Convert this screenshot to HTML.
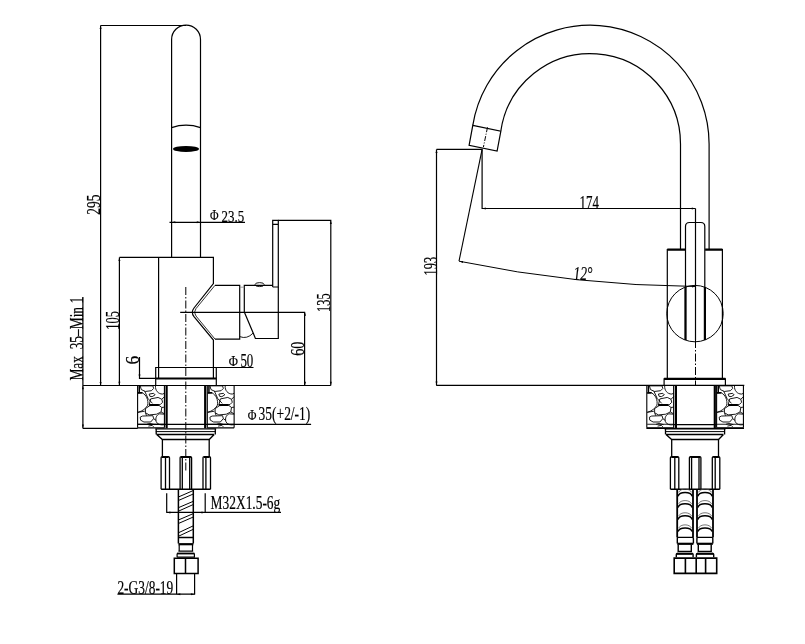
<!DOCTYPE html>
<html><head><meta charset="utf-8"><style>
html,body{margin:0;padding:0;background:#fff;width:805px;height:644px;overflow:hidden}
svg{display:block;filter:grayscale(1)}
text{font-family:"Liberation Serif",serif;fill:#000}
</style></head><body>
<svg width="805" height="644" viewBox="0 0 805 644">
<defs>
<g id="peb" fill="none" stroke="#000" stroke-width="1">
 <g transform="scale(0.07452)">
  <path vector-effect="non-scaling-stroke" stroke-width="1.1" d="M0,0 V568 M360,0 V568 M0,0 H360 M0,568 H360"/>
  <path vector-effect="non-scaling-stroke" stroke-width="1.5" d="M22,5 V95 M5,98 H65"/>
  <path vector-effect="non-scaling-stroke" stroke-width="0.9" d="M35,5 L205,5 L215,40 L185,70 L105,80 L50,55 Z
  M240,5 C235,65 275,115 335,115 L360,105
  M5,105 L65,100 C115,125 150,195 135,265 C115,305 65,345 5,360
  M155,115 L215,105 L235,125 L195,150 L165,145 Z
  M95,75 L140,175 L200,240
  M175,180 L275,160 L325,185 L335,225 L305,255 L255,265 L155,265 Z
  M105,310 L165,270 L285,265 L325,295 L315,355 L255,385 L155,395 L105,365 Z
  M35,425 L65,410 L205,405 L215,445 L175,490 L85,490 L40,465 Z
  M360,385 L295,380 C255,395 235,435 250,485 C265,525 315,535 360,525
  M125,520 L165,510 L225,525 M145,545 L195,535 L215,555
  M5,360 L95,345 M325,185 L360,150 M325,295 L360,290 M315,355 L360,380 M105,365 L120,405 M215,445 L250,470 M5,520 L360,520"/>
  <path vector-effect="non-scaling-stroke" stroke-width="2" d="M155,262 H285"/>
 </g>
</g>
<g id="base" fill="none" stroke="#000" stroke-width="1.3">
  <path d="M155.3,428.9 H216.2" stroke-width="1.3"/><path d="M155.8,431.6 H215.7" stroke-width="1"/>
  <path d="M156.2,428.9 V434.5 M215.3,428.9 V434.5 M156.7,434.5 H214.2 M156.7,434.5 L162.4,439.5 H209.2 L214.2,434.5"/>
  <path d="M162.4,439.3 V456.6 M209.2,439.3 V456.6"/>
  <path d="M161.1,489.3 V457.8 Q161.1,456.6 162.3,456.6 H168.3 Q169.5,456.6 169.5,457.8 V489.3 M165.5,456.6 V489.3" />
  <path d="M180.1,489.3 V457.8 Q180.1,456.6 181.3,456.6 H190.4 Q191.6,456.6 191.6,457.8 V489.3 M182.3,456.6 V489.3 M189.7,456.6 V489.3"/>
  <path d="M203,489.3 V457.8 Q203,456.6 204.2,456.6 H209.3 Q210.5,456.6 210.5,457.8 V489.3 M205.9,456.6 V489.3"/>
  <path d="M161.1,489.3 H210.5" stroke-width="1.5"/>
  <path d="M162,457 H168.6 M181,457 H190.8 M204,457 H209.6" stroke-width="2"/>
</g>
</defs>
<g fill="none" stroke="#000" stroke-width="1.2">
<!-- LEFT VIEW -->
<!-- 295 dim -->
<path d="M100.6,25.5 V385.5 M100.6,25.5 H186"/>
<!-- spout -->
<path d="M171.6,257.4 V39.5 A14.45,14.45 0 0 1 200.5,39.5 V257.4"/>
<path d="M171.6,127.6 Q186,122.8 200.5,127.6"/>
<ellipse cx="186" cy="148.9" rx="13" ry="3" fill="#000" stroke="none"/>
<!-- phi 23.5 -->
<path d="M169.5,222.3 H245"/>
<!-- body -->
<path d="M119.4,257.4 H213.4 V283.5 L194,308 Q190.6,312.3 194,316.6 L213.4,340 V378.5"/>
<path d="M215,285.3 L196,308.6 Q193,312.3 196,316 L215,339.1" stroke-width="0.8"/>
<path d="M119.4,257.4 V385.5 M158.6,257.4 V378.5"/>
<!-- cartridge -->
<path d="M215,285.3 H239.7 V339.1 H215"/>
<path d="M244.3,312 V285.3 H272.7 M244.3,312 L253.5,333.7 L255.4,338.5 H278.3 V287"/>
<path d="M239.7,336.6 Q247,339.5 253,333.2" stroke-width="0.9"/><path d="M239.7,287.2 H244.3" stroke-width="0.8" stroke="#888"/>
<ellipse cx="259.6" cy="284.6" rx="4.5" ry="2" stroke-width="0.9"/>
<path d="M272.7,287 V220.3 H278.3 V287 H272.7 M272.7,224.3 H278.3"/>
<!-- 135 dim -->
<path d="M278.3,220.3 H330.8 V385.5"/>
<!-- centerline horizontal -->
<path d="M180.2,312.4 H304.6 V385.5"/>
<!-- dash-dot vertical -->
<path d="M185.8,287 V472" stroke-dasharray="8,2,1.5,2" stroke-width="1"/>
<!-- flange -->
<path d="M155.7,385.5 V367.5 H216.3 V385.5"/>
<path d="M155.7,378.5 H216.3" stroke-width="2.2"/>
<!-- phi 50 underline -->
<path d="M216.3,367.5 H253.5"/>
<!-- 6 dim -->
<path d="M139.5,357 V378.3 H155.7"/>
<!-- counter -->
<path d="M82.9,385.5 H330.8 M82.9,296.9 V428.5 M82.9,428.3 H137.8"/>
<!-- shank -->
<path d="M166.6,385.5 V428.3 M205.2,385.5 V428.3" stroke-width="2.2"/>
<path d="M137.8,424.4 H311.1"/>
</g>
<use href="#peb" transform="translate(137.6,385.5)"/>
<use href="#peb" transform="translate(207.3,385.5)"/>
<use href="#base"/>
<!-- left hose -->
<g fill="none" stroke="#000" stroke-width="1.2">
<path d="M178.4,489.3 V537.5 M193.3,489.3 V537.5 M178.4,537.5 H193.3 M178.4,537.5 V543.5 M193.3,537.5 V543.5" stroke-width="1.5"/>
<path d="M178.4,497 L193.3,490.5 M178.4,500.5 L193.3,494 M178.4,507.7 L193.3,501.3 M178.4,511.2 L193.3,504.5 M178.4,520 L193.3,513.6 M178.4,523.5 L193.3,517 M178.4,532.8 L193.3,525.8 M178.4,536.3 L193.3,529.3" stroke-width="1"/>
<path d="M178.4,544.2 H193.4" stroke-width="2.2"/>
<path d="M179.2,545 V551.2 M192.5,545 V551.2 M178.4,551.2 H193.2"/>
<path d="M177.1,557.2 V554 Q177.1,553.5 178,553.5 H193.4 Q194.4,553.5 194.4,554 V557.2 H177.1" />
<path d="M177.1,553.5 H194.4" stroke-width="1.8"/>
<path d="M174.3,558.2 H198.1 V573.5 H174.3 Z M185.5,558.2 V573.5" stroke-width="1.5"/>
<path d="M176.6,573.5 V594.2 M194.6,573.5 V594.2"/>
<!-- M32 dim -->
<path d="M166.7,493.2 V512.4 M205.2,493.2 V512.4 M166.2,512.4 H281"/>
<!-- 2-G3 dim -->
<path d="M117.4,594.2 H195.1"/>
</g>
<!-- RIGHT VIEW -->
<g fill="none" stroke="#000" stroke-width="1.2">
<path d="M472.8,125.3 A118.9,118.9 0 0 1 709.1,144 V249.5"/>
<path d="M500.85,130.9 A90.3,90.3 0 0 1 680.5,144 V249.5"/>
<path d="M472.8,125.3 L500.85,131.1 L497.1,151.1 L469.1,145.3 Z"/>
<path d="M487.5,127.3 L483.4,147.1" stroke-dasharray="5,1.5,1,1.5" stroke-width="1"/>
<!-- dims -->
<path d="M436.5,149.4 H482.1 V208.5 H695.5 M436.5,149.4 V385.3"/>
<path d="M482.1,149.4 L459,261.2" stroke-width="1.1"/><path d="M459,261.2 A1214.6,1214.6 0 0 0 695.7,286.5" stroke-width="1"/>
<path d="M695.5,208.5 V340" />
<path d="M695.5,340 V385" stroke-dasharray="8,2,1.5,2" stroke-width="1"/>
<!-- handle -->
<path d="M685.5,340 V226.5 Q685.5,222.5 689.5,222.5 H700.8 Q704.8,222.5 704.8,226.5 V340"/>
<path d="M685.5,287 V340 M704.9,287 V340" stroke-width="2.2"/>
<!-- body -->
<path d="M667.3,249.7 H685.5 M705.1,249.7 H722.4" stroke-width="2.2"/>
<path d="M667.3,249 V378.5 M722.4,249 V378.5"/>
<circle cx="695" cy="313.6" r="28.2" stroke-width="1"/>
<!-- flange -->
<path d="M664.1,385.3 V378.9 H725.4 V385.3"/>
<path d="M664.1,378.9 H725.4" stroke-width="2.2"/>
<path d="M436.2,385.3 H744.3"/>
<path d="M675.9,385.5 V428.3 M714.8,385.5 V428.3" stroke-width="2.2"/>
<path d="M646.4,428.4 H744"/>
<path d="M673.3,424.6 H716.9"/>
</g>
<use href="#peb" transform="translate(646.8,385.5)"/>
<use href="#peb" transform="translate(716.6,385.5)"/>
<use href="#base" transform="translate(509.3,0)"/>
<!-- right hoses -->
<g fill="none" stroke="#000" stroke-width="1.2">
<path d="M677.2,489.3 V537.4 M693,489.3 V537.4" stroke-width="1.8"/>
<path d="M678.0,496.2 C679.5,491.3 690.7,491.3 692.2,496.2 M678.0,507.4 C679.5,502.5 690.7,502.5 692.2,507.4 M678.0,519.5 C679.5,514.5999999999999 690.7,514.5999999999999 692.2,519.5 M678.0,531.6 C679.5,526.6999999999999 690.7,526.6999999999999 692.2,531.6 " stroke-width="1.6"/>
<path d="M678.7,492.4 C680.2,487.95 690.0,487.95 691.5,492.4 M678.7,503.9 C680.2,499.45 690.0,499.45 691.5,503.9 M678.7,516.1 C680.2,511.65000000000003 690.0,511.65000000000003 691.5,516.1 M678.7,528.2 C680.2,523.75 690.0,523.75 691.5,528.2 " stroke-width="0.8" stroke="#555"/>
<path d="M677.3,543.6 V538.4 Q677.3,537.4 678.3,537.4 H692.4 Q693.4,537.4 693.4,538.4 V543.6" stroke-width="1.4"/>
<path d="M677.3,543.8 H693.4" stroke-width="2.2"/>
<path d="M678.2,544.4 V551.4 H691.3 V544.4" stroke-width="1.4"/>
<path d="M676.3,557.2 V554.5 Q676.3,553.5 677.3,553.5 H692.1 Q693.1,553.5 693.1,554.5 V557.2" stroke-width="1.4"/>
<path d="M676.8,553.8 H692.6" stroke-width="2"/>
<path d="M697,489.3 V537.4 M713,489.3 V537.4" stroke-width="1.8"/>
<path d="M697.8,496.2 C699.3,491.3 710.7,491.3 712.2,496.2 M697.8,507.4 C699.3,502.5 710.7,502.5 712.2,507.4 M697.8,519.5 C699.3,514.5999999999999 710.7,514.5999999999999 712.2,519.5 M697.8,531.6 C699.3,526.6999999999999 710.7,526.6999999999999 712.2,531.6 " stroke-width="1.6"/>
<path d="M698.5,492.4 C700.0,487.95 710.0,487.95 711.5,492.4 M698.5,503.9 C700.0,499.45 710.0,499.45 711.5,503.9 M698.5,516.1 C700.0,511.65000000000003 710.0,511.65000000000003 711.5,516.1 M698.5,528.2 C700.0,523.75 710.0,523.75 711.5,528.2 " stroke-width="0.8" stroke="#555"/>
<path d="M696.9,543.6 V538.4 Q696.9,537.4 697.9,537.4 H711.8 Q712.8,537.4 712.8,538.4 V543.6" stroke-width="1.4"/>
<path d="M696.9,543.8 H712.8" stroke-width="2.2"/>
<path d="M698.3,544.4 V551.4 H711.2 V544.4" stroke-width="1.4"/>
<path d="M696.4,557.2 V554.5 Q696.4,553.5 697.4,553.5 H712.7 Q713.7,553.5 713.7,554.5 V557.2" stroke-width="1.4"/>
<path d="M696.9,553.8 H713.2" stroke-width="2"/>
<path d="M674.2,558.1 H716.7 V573.4 H674.2 Z M685.4,558.1 V573.4 M696.2,558.1 V573.4 M705.6,558.1 V573.4" stroke-width="1.6"/>
</g>
<path fill="#000" stroke="none" d="M100.6,25.5 L99.6,29.0 L101.6,29.0 Z M100.6,385.5 L99.6,382.0 L101.6,382.0 Z M119.4,257.6 L118.4,261.1 L120.4,261.1 Z M119.4,385.3 L118.4,381.8 L120.4,381.8 Z M82.9,385.8 L81.9,389.3 L83.9,389.3 Z M82.9,428.1 L81.9,424.6 L83.9,424.6 Z M305,312.2 L304.0,315.7 L306.0,315.7 Z M305,385.3 L304.0,381.8 L306.0,381.8 Z M330.8,220.5 L329.8,224.0 L331.8,224.0 Z M330.8,385.3 L329.8,381.8 L331.8,381.8 Z M436.5,149.6 L435.5,153.1 L437.5,153.1 Z M436.5,385.1 L435.5,381.6 L437.5,381.6 Z M482.3,208.5 L485.8,207.5 L485.8,209.5 Z M695.3,208.5 L691.8,207.5 L691.8,209.5 Z M459.5,261.4 L463.0,260.9 L463.0,262.9 Z M695.5,286.5 L692.0,285.5 L692.0,287.5 Z M171.8,222.3 L175.3,221.3 L175.3,223.3 Z M200.3,222.3 L196.8,221.3 L196.8,223.3 Z M166.9,512.4 L170.4,511.4 L170.4,513.4 Z M205,512.4 L201.5,511.4 L201.5,513.4 Z M176.8,594.2 L180.3,593.2 L180.3,595.2 Z M194.4,594.2 L190.9,593.2 L190.9,595.2 Z M139.5,378.1 L138.5,374.6 L140.5,374.6 Z"/>
<!-- TEXT -->
<g font-size="18.3" stroke="#000" stroke-width="0.2">
<text transform="translate(99.6,214.7) rotate(-90)" textLength="20" lengthAdjust="spacingAndGlyphs">295</text>
<text x="210.1" y="220.3" font-size="15.5" textLength="8.6" lengthAdjust="spacingAndGlyphs">Φ</text><text x="221.6" y="221.6" font-size="17" textLength="22.6" lengthAdjust="spacingAndGlyphs">23.5</text>
<text transform="translate(119.4,329.7) rotate(-90)" textLength="18.7" lengthAdjust="spacingAndGlyphs">105</text>
<text transform="translate(82.6,380.6) rotate(-90)" textLength="83.7" lengthAdjust="spacingAndGlyphs" style="white-space:pre">Max  35–Min 1</text>
<text transform="translate(139.3,364.5) rotate(-90)" textLength="8.7" lengthAdjust="spacingAndGlyphs">6</text>
<text x="228.8" y="365.7" font-size="15.5" textLength="9.2" lengthAdjust="spacingAndGlyphs">Φ</text><text x="240.4" y="366.6" textLength="12.9" lengthAdjust="spacingAndGlyphs">50</text>
<text transform="translate(303.8,355.8) rotate(-90)" textLength="14.2" lengthAdjust="spacingAndGlyphs">60</text>
<text transform="translate(330,312) rotate(-90)" textLength="18.6" lengthAdjust="spacingAndGlyphs">135</text>
<text x="247.7" y="419.6" font-size="15.5" textLength="8.7" lengthAdjust="spacingAndGlyphs">Φ</text><text x="258.6" y="420.2" textLength="51.7" lengthAdjust="spacingAndGlyphs">35(+2/-1)</text>
<text x="210.6" y="508.9" textLength="69.7" lengthAdjust="spacingAndGlyphs">M32X1.5-6g</text>
<text x="117.4" y="593.5" textLength="55.9" lengthAdjust="spacingAndGlyphs">2-G3/8-19</text>
<text x="579.5" y="208.9" textLength="19.4" lengthAdjust="spacingAndGlyphs">174</text>
<text x="573.5" y="279.6" font-size="18.5" font-style="italic" textLength="19" lengthAdjust="spacingAndGlyphs">12°</text>
<text transform="translate(437.2,275.4) rotate(-90)" textLength="18.6" lengthAdjust="spacingAndGlyphs">193</text>
</g>
</svg>
</body></html>
